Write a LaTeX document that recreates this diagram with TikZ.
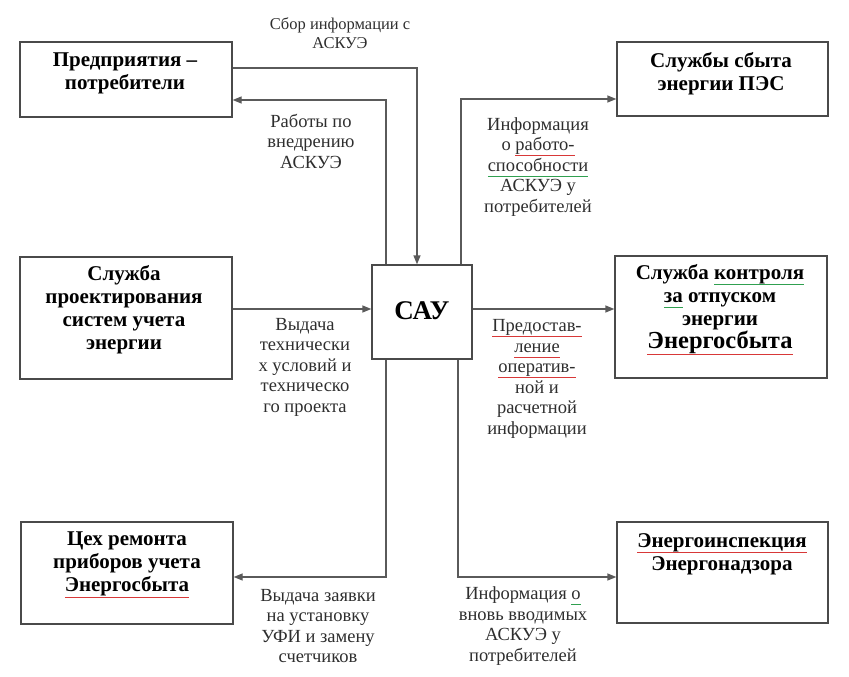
\documentclass[tikz,border=0pt]{standalone}
\usepackage{fontspec}
\setmainfont{Liberation Serif}
\usetikzlibrary{arrows.meta,calc}
\definecolor{boxline}{HTML}{4A4A4A}
\definecolor{connline}{HTML}{5A5A5A}
\definecolor{labtext}{HTML}{2E2E2E}
\definecolor{ulred}{HTML}{D83838}
\definecolor{ulgreen}{HTML}{30A050}
\newsavebox{\myulbox}
\newcommand\myul[2]{\sbox{\myulbox}{#2}\rlap{\textcolor{#1}{\rule[-0.28em]{\wd\myulbox}{1pt}}}\usebox{\myulbox}}
\newcommand\ulr[1]{\myul{ulred}{#1}}
\newcommand\ulg[1]{\myul{ulgreen}{#1}}
\tikzset{
  box/.style={draw=boxline, line width=1.3pt, rectangle, inner sep=0pt},
  boxtext/.style={align=center, font=\fontsize{21}{23}\selectfont\bfseries, inner sep=0pt},
  labtxt/.style={align=center, text=labtext, font=\fontsize{18.5}{20.5}\selectfont, inner sep=0pt},
  conn/.style={draw=connline, line width=1.3pt},
  arr/.style={conn, -{Triangle[length=9pt,width=7pt]}},
}
\begin{document}
\begin{tikzpicture}[x=1pt,y=-1pt]
\useasboundingbox (0,0) rectangle (849,677);
% boxes
\node[box, minimum width=212pt, minimum height=75pt] (b1) at (126,79.5) {};
\node[box, minimum width=211pt, minimum height=74pt] (b2) at (722.5,79) {};
\node[box, minimum width=212pt, minimum height=122pt] (b3) at (126,318) {};
\node[box, minimum width=100pt, minimum height=94pt] (cay) at (422,312) {};
\node[box, minimum width=212pt, minimum height=122pt] (b4) at (721,317) {};
\node[box, minimum width=212pt, minimum height=102pt] (b5) at (127,573) {};
\node[box, minimum width=211pt, minimum height=101pt] (b6) at (722.5,572.5) {};
% box texts
\node[boxtext] (t1) at (125,73) {Предприятия –\\потребители};
\node[boxtext] (t2) at (721,74) {Службы сбыта\\энергии ПЭС};
\node[boxtext] (t3) at (124,310) {Служба\\проектирования\\систем учета\\энергии};
\node[font=\fontsize{27}{30}\selectfont\bfseries, inner sep=0pt] (tc) at (422,311) {САУ};
\node[boxtext] (t4) at (720,310) {Служба \ulg{контроля}\\\ulg{за} отпуском\\энергии\\{\fontsize{24.5}{24}\selectfont\ulr{Энергосбыта}}};
\node[boxtext] (t5) at (127,565) {Цех ремонта\\приборов учета\\\ulr{Энергосбыта}};
\node[boxtext] (t6) at (722,554) {\ulr{Энергоинспекция}\\Энергонадзора};
% labels
\node[labtxt, font=\fontsize{16.5}{18.5}\selectfont] (l1) at (340,33) {Сбор информации с\\АСКУЭ};
\node[labtxt] (l2) at (311,141) {Работы по\\внедрению\\АСКУЭ};
\node[labtxt] (l3) at (538,167) {Информация\\о \ulr{работо-}\\\ulg{способности}\\АСКУЭ у\\потребителей};
\node[labtxt] (l4) at (305,367) {Выдача\\технически\\х условий и\\техническо\\го проекта};
\node[labtxt] (l5) at (537,379) {\ulr{Предостав-}\\\ulr{ление}\\\ulr{оператив-}\\ной и\\расчетной\\информации};
\node[labtxt] (l6) at (318,626) {Выдача заявки\\на установку\\УФИ и замену\\счетчиков};
\node[labtxt] (l7) at (523,626) {Информация \ulg{о}\\вновь вводимых\\АСКУЭ у\\потребителей};
% connectors
\draw[arr] ([yshift=11.5pt]b1.east) -| ([xshift=-5pt]cay.north);
\draw[arr] ([xshift=-36pt]cay.north) |- ([yshift=-20.5pt]b1.east);
\draw[arr] ([xshift=39pt]cay.north) |- ([yshift=-20pt]b2.west);
\coordinate (p4) at ([yshift=9pt]b3.east);
\draw[arr] (p4) -- (p4 -| cay.west);
\coordinate (p5) at ([yshift=3pt]cay.east);
\draw[arr] (p5) -- (p5 -| b4.west);
\draw[arr] ([xshift=-36pt]cay.south) |- ([yshift=-4pt]b5.east);
\draw[arr] ([xshift=36pt]cay.south) |- ([yshift=-4.5pt]b6.west);
\end{tikzpicture}
\end{document}
